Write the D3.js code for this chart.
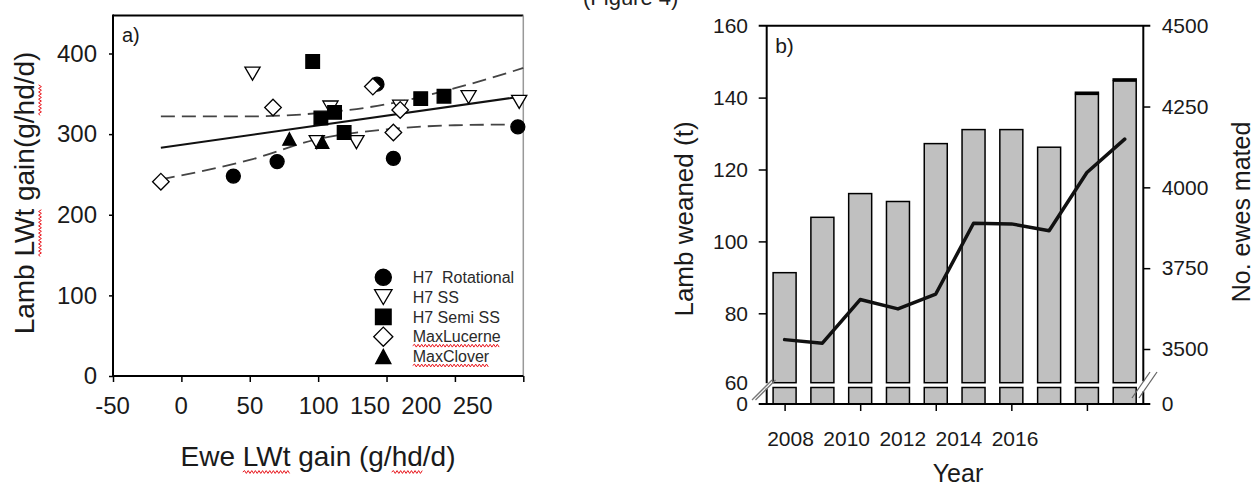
<!DOCTYPE html>
<html><head><meta charset="utf-8">
<script src="https://cdn.jsdelivr.net/npm/d3@7"></script>
<style>
body{margin:0;background:#fff;}
svg{display:block;}
svg text{font-family:"Liberation Sans",Arial,sans-serif;}
</style>
</head><body>
<svg id="c" width="1257" height="487"></svg>
<script>
// ---------- Panel a data ----------
const rotX  = [38, 70, 143, 155, 246];
const rotY  = [248, 266, 362, 270, 309];
const ssX   = [52, 109, 128, 99, 160, 210, 247];
const ssY   = [375, 333, 290, 290, 334, 346, 340];
const semiX = [96, 102, 112, 119, 175, 192];
const semiY = [390, 320, 327, 302, 344, 347];
const lucX  = [-15, 67, 140, 160, 155];
const lucY  = [241, 333, 359, 330, 302];
const cloX  = [79, 103];
const cloY  = [294, 290];
const fitX  = [-15, 250];
const fitY  = [283, 347];
const ciX     = [-15, 50, 100, 150, 200, 250];
const ciUpper = [322, 322, 326, 337, 357, 382];
const ciLower = [244, 268, 294, 306, 311, 312];
const xTicksA = [-50, 0, 50, 100, 150, 200, 250];
const yTicksA = [0, 100, 200, 300, 400];
const legendNames = ["H7  Rotational", "H7 SS", "H7 Semi SS", "MaxLucerne", "MaxClover"];

// ---------- Panel b data ----------
const years       = [2008, 2009, 2010, 2011, 2012, 2013, 2014, 2015, 2016, 2017];
const lambWeaned  = [91.3, 106.7, 113.3, 111.1, 127.2, 131.1, 131.1, 126.2, 140.9, 144.6];
const lambTopCap  = [0, 0, 0, 0, 0, 0, 0, 0, 0.8, 0.8];
const ewesMated   = [3529, 3518, 3653, 3624, 3670, 3889, 3887, 3866, 4046, 4149];
const yearTicks   = [2008, 2010, 2012, 2014, 2016];
const leftTicksB  = [60, 80, 100, 120, 140, 160];
const rightTicksB = [3500, 3750, 4000, 4250, 4500];

const svg = d3.select('#c');
const TXT = '#1a1a1a';
const FONT = '"Liberation Sans", Arial, sans-serif';

function shapePath(type, s) {
  switch (type) {
    case 'circle': { const r = 7 * s; return `M${-r},0A${r},${r} 0 1,0 ${r},0A${r},${r} 0 1,0 ${-r},0Z`; }
    case 'square': { const h = 6.8 * s; return `M${-h},${-h}H${h}V${h}H${-h}Z`; }
    case 'diamond': { const d = 8.3 * s; return `M0,${-d}L${d},0L0,${d}L${-d},0Z`; }
    case 'triDown': { const w = 7.6 * s, h = 13 * s; return `M${-w},${-h/2}L${w},${-h/2}L0,${h/2}Z`; }
    case 'triUp': { const w = 6.6 * s, h = 12.5 * s; return `M0,${-h/2}L${w},${h/2}L${-w},${h/2}Z`; }
  }
}
function squiggle(g, x0, x1, y) {
  let d = `M${x0},${y}`; let up = true;
  for (let x = x0 + 1.8; x <= x1; x += 1.8) { d += `L${x},${y + (up ? -1.4 : 1.4)}`; up = !up; }
  g.append('path').attr('d', d).attr('fill', 'none').attr('stroke', '#e8141a').attr('stroke-width', 1);
}
function underlineWords(textSel, words, offsetY, parent) {
  const node = textSel.node();
  const full = node.textContent;
  const total = node.getComputedTextLength();
  const start = -total / 2;
  words.forEach(w => {
    const i = full.indexOf(w);
    const a = node.getSubStringLength(0, i);
    const l = node.getSubStringLength(i, w.length);
    squiggle(parent, start + a, start + a + l, offsetY);
  });
}
function styleAxis(g, size) {
  g.attr('font-family', FONT).attr('font-size', size);
  g.select('.domain').remove();
  g.selectAll('line').attr('stroke', '#000').attr('stroke-width', 1.5);
  g.selectAll('text').attr('font-size', size).attr('fill', TXT).attr('font-family', FONT);
}

// caption fragment cut at the top edge
svg.append('text').attr('x', 583).attr('y', 5).attr('font-size', 22).attr('fill', '#222').text('(Figure 4)');

// ================= PANEL A =================
const xA = d3.scaleLinear().domain([-50, 250]).range([113, 523.3]);
const yA = d3.scaleLinear().domain([0, 400]).range([376, 53.5]);
const xLabA = d3.scaleLinear().domain([-50, 100, 250]).range([xA(-50) - 1, xA(100), xA(100) + 154]);
const gA = svg.append('g');

const axL = gA.append('g').attr('transform', `translate(${xA(-50)},0)`)
  .call(d3.axisLeft(yA).tickValues(yTicksA).tickSize(4).tickPadding(12).tickFormat(d3.format('d')));
styleAxis(axL, 24);

const axB = gA.append('g').attr('transform', `translate(0,${yA(0)})`)
  .call(d3.axisBottom(xA).tickValues(xTicksA).tickSize(6).tickPadding(15).tickFormat(d3.format('d')));
styleAxis(axB, 24);
axB.selectAll('text').attr('x', d => xLabA(d) - xA(d)).text(d => d === -50 ? '-50' : d);

// frame
const topA = yA(447);
gA.append('line').attr('x1', xA(-50)).attr('x2', xA(250)).attr('y1', topA).attr('y2', topA).attr('stroke', '#000').attr('stroke-width', 2);
gA.append('line').attr('x1', xA(250)).attr('x2', xA(250)).attr('y1', topA).attr('y2', yA(0)).attr('stroke', '#999').attr('stroke-width', 1.5);
gA.append('line').attr('x1', xA(-50)).attr('x2', xA(-50)).attr('y1', topA - 1).attr('y2', yA(0) + 1).attr('stroke', '#000').attr('stroke-width', 2);
gA.append('line').attr('x1', xA(-50) - 1).attr('x2', xA(250)).attr('y1', yA(0)).attr('y2', yA(0)).attr('stroke', '#000').attr('stroke-width', 2);

gA.append('text').attr('x', xA(-50) + 9).attr('y', 42).attr('font-size', 20).attr('fill', TXT).text('a)');

// regression + CI
gA.append('path').datum(d3.zip(fitX, fitY)).attr('fill', 'none').attr('stroke', '#111').attr('stroke-width', 2)
  .attr('d', d3.line().x(d => xA(d[0])).y(d => yA(d[1])));
[ciUpper, ciLower].forEach(arr => {
  gA.append('path').datum(d3.zip(ciX, arr)).attr('fill', 'none').attr('stroke', '#444').attr('stroke-width', 1.8)
    .attr('stroke-dasharray', '14,7')
    .attr('d', d3.line().curve(d3.curveMonotoneX).x(d => xA(d[0])).y(d => yA(d[1])));
});

const seriesA = [
  { xs: rotX,  ys: rotY,  shape: 'circle',  fill: '#000' },
  { xs: ssX,   ys: ssY,   shape: 'triDown', fill: '#fff' },
  { xs: semiX, ys: semiY, shape: 'square',  fill: '#000' },
  { xs: lucX,  ys: lucY,  shape: 'diamond', fill: '#fff' },
  { xs: cloX,  ys: cloY,  shape: 'triUp',   fill: '#000' }
];
seriesA.forEach(s => {
  gA.append('g').selectAll('path').data(d3.zip(s.xs, s.ys)).join('path')
    .attr('transform', d => `translate(${xA(d[0])},${yA(d[1])})`)
    .attr('d', shapePath(s.shape, 1)).attr('fill', s.fill).attr('stroke', '#000').attr('stroke-width', 1.3);
});

// legend
const lg = gA.append('g');
seriesA.forEach((s, i) => {
  const y = 277.3 + i * 19.8;
  lg.append('path').attr('transform', `translate(383.3,${y})`).attr('d', shapePath(s.shape, 1.15))
    .attr('fill', s.fill).attr('stroke', '#000').attr('stroke-width', 1.3);
  const t = lg.append('text').attr('x', 412.7).attr('y', y).attr('dy', '0.36em').attr('font-size', 16)
    .attr('fill', '#2a2a2a').style('white-space', 'pre').text(legendNames[i]);
  if (i >= 3) {
    const len = t.node().getComputedTextLength();
    squiggle(lg, 412.7, 412.7 + len, y + 9);
  }
});

// axis titles
const yTitleA = gA.append('g').attr('transform', 'translate(34,193) rotate(-90)');
const ytA = yTitleA.append('text').attr('text-anchor', 'middle').attr('font-size', 28).attr('fill', TXT)
  .text('Lamb LWt gain(g/hd/d)');
underlineWords(ytA, ['LWt', 'hd'], 6, yTitleA);
const xTitleA = gA.append('g').attr('transform', 'translate(318,466)');
const xtA = xTitleA.append('text').attr('text-anchor', 'middle').attr('font-size', 28).attr('fill', TXT)
  .text('Ewe LWt gain (g/hd/d)');
underlineWords(xtA, ['LWt', 'hd'], 6, xTitleA);

// ================= PANEL B =================
const xB = d3.scaleLinear().domain([2008, 2017]).range([784.6, 1124.7]);
const xLabB = d3.scaleLinear().domain([2008, 2016]).range([790, 1014.5]);
const yL = d3.scaleLinear().domain([60, 160]).range([385.2, 25.7]);
const yR = d3.scaleLinear().domain([3500, 4500]).range([349, 25.7]);
const yLow = d3.scaleLinear().domain([0, 60]).range([404, 387.5]);
const leftX = 766.7, rightX = 1143.3;
const gB = svg.append('g');
const barW = 23;

gB.append('g').selectAll('rect').data(d3.zip(years, lambWeaned)).join('rect')
  .attr('x', d => xB(d[0]) - barW / 2).attr('width', barW)
  .attr('y', d => yL(d[1])).attr('height', d => yL(60) - 2.5 - yL(d[1]))
  .attr('fill', '#c0c0c0').attr('stroke', '#000').attr('stroke-width', 1.5);
gB.append('g').selectAll('rect').data(d3.zip(years, lambWeaned, lambTopCap).filter(d => d[2] > 0)).join('rect')
  .attr('x', d => xB(d[0]) - barW / 2 - 0.75).attr('width', barW + 1.5)
  .attr('y', d => yL(d[1] + d[2])).attr('height', d => yL(d[1]) - yL(d[1] + d[2]))
  .attr('fill', '#000');
gB.append('g').selectAll('rect').data(years).join('rect')
  .attr('x', d => xB(d) - barW / 2).attr('width', barW)
  .attr('y', yLow(60)).attr('height', yLow(0) - yLow(60))
  .attr('fill', '#c0c0c0').attr('stroke', '#000').attr('stroke-width', 1.5);

gB.append('path').datum(d3.zip(years, ewesMated)).attr('fill', 'none').attr('stroke', '#111')
  .attr('stroke-width', 3.5).attr('stroke-linejoin', 'round').attr('stroke-linecap', 'round')
  .attr('d', d3.line().x(d => xB(d[0])).y(d => yR(d[1])));

// left axis
const aL = gB.append('g').attr('transform', `translate(${leftX},0)`)
  .call(d3.axisLeft(yL).tickValues(leftTicksB).tickSize(8).tickPadding(10.7).tickFormat(d3.format('d')));
styleAxis(aL, 21);
aL.selectAll('.tick line').filter(d => d === 60 || d === 160).remove();
aL.selectAll('text').attr('dy', d => d === 60 ? '0.22em' : '0.32em');
const aL0 = gB.append('g').attr('transform', `translate(${leftX},0)`)
  .call(d3.axisLeft(yLow).tickValues([0]).tickSize(8).tickPadding(10.7).tickFormat(d3.format('d')));
styleAxis(aL0, 21); aL0.selectAll('line').remove();

// right axis
const aR = gB.append('g').attr('transform', `translate(${rightX},0)`)
  .call(d3.axisRight(yR).tickValues(rightTicksB).tickSize(7).tickPadding(11.4).tickFormat(d3.format('d')));
styleAxis(aR, 21);
aR.selectAll('.tick line').filter(d => d === 4500).remove();
const yRLow = d3.scaleLinear().domain([0, 1]).range([404, 387.5]);
const aR0 = gB.append('g').attr('transform', `translate(${rightX},0)`)
  .call(d3.axisRight(yRLow).tickValues([0]).tickSize(7).tickPadding(11.4).tickFormat(d3.format('d')));
styleAxis(aR0, 21); aR0.selectAll('line').remove();

// bottom axis
const aX = gB.append('g').attr('transform', `translate(0,${yLow(0)})`)
  .call(d3.axisBottom(xB).tickValues(yearTicks).tickSize(7).tickPadding(20).tickFormat(d3.format('d')));
styleAxis(aX, 21);
aX.selectAll('text').attr('x', d => xLabB(d) - xB(d));

// frame lines
const topB = yL(160);
gB.append('line').attr('x1', leftX - 8).attr('x2', rightX + 7).attr('y1', topB).attr('y2', topB).attr('stroke', '#000').attr('stroke-width', 2);
gB.append('line').attr('x1', leftX - 8).attr('x2', rightX + 7).attr('y1', yLow(0)).attr('y2', yLow(0)).attr('stroke', '#000').attr('stroke-width', 2);
gB.append('line').attr('x1', leftX).attr('x2', leftX).attr('y1', topB).attr('y2', yL(60) - 2).attr('stroke', '#000').attr('stroke-width', 2);
gB.append('line').attr('x1', leftX).attr('x2', leftX).attr('y1', yLow(60) + 1).attr('y2', yLow(0)).attr('stroke', '#000').attr('stroke-width', 2);
gB.append('line').attr('x1', rightX).attr('x2', rightX).attr('y1', topB).attr('y2', yL(60) - 4).attr('stroke', '#000').attr('stroke-width', 2);
gB.append('line').attr('x1', rightX).attr('x2', rightX).attr('y1', yLow(60) + 4).attr('y2', yLow(0)).attr('stroke', '#000').attr('stroke-width', 2);

// axis break marks
[0, 3.5].forEach(o => {
  gB.append('line').attr('x1', 752 + o).attr('y1', 400).attr('x2', 772 + o).attr('y2', 380)
    .attr('stroke', '#777').attr('stroke-width', 1.3);
});
[0, 7].forEach(o => {
  gB.append('line').attr('x1', 1132 + o).attr('y1', 398).attr('x2', 1150 + o).attr('y2', 372)
    .attr('stroke', '#666').attr('stroke-width', 1.3);
});

gB.append('text').attr('x', leftX + 8.5).attr('y', 53).attr('font-size', 21).attr('fill', TXT).text('b)');

// titles
gB.append('text').attr('transform', 'translate(693,219) rotate(-90)').attr('text-anchor', 'middle')
  .attr('font-size', 26).attr('fill', TXT).text('Lamb weaned (t)');
gB.append('text').attr('transform', 'translate(1250,212) rotate(-90)').attr('text-anchor', 'middle')
  .attr('font-size', 25).attr('fill', TXT).text('No. ewes mated');
gB.append('text').attr('x', 958).attr('y', 482).attr('text-anchor', 'middle')
  .attr('font-size', 25).attr('fill', TXT).text('Year');
</script>
</body></html>
